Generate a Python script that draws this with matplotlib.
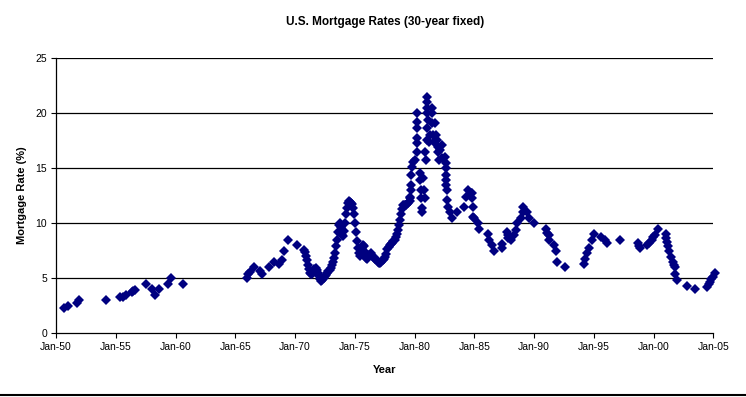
from matplotlib import pyplot as plt
from matplotlib.lines import Line2D

years = [
    1950.70, 1951.03, 1951.76, 1951.93, 1954.21, 1955.35, 1955.63, 1955.83,
    1956.33, 1956.47, 1956.61, 1957.55, 1958.05, 1958.30, 1958.64, 1959.39,
    1959.64, 1960.64,
    1965.94, 1966.08, 1966.27, 1966.58, 1967.05, 1967.25, 1967.83, 1968.25,
    1968.67, 1968.87, 1969.09, 1969.42, 1970.17,
    1970.77, 1970.87, 1970.95, 1971.02, 1971.09, 1971.17, 1971.25, 1971.34,
    1971.42, 1971.52, 1971.62, 1971.72, 1971.82, 1971.92, 1972.02, 1972.12,
    1972.21, 1972.29, 1972.39, 1972.49, 1972.59, 1972.69, 1972.79, 1972.89,
    1972.99, 1973.09, 1973.17, 1973.25, 1973.33, 1973.41, 1973.49, 1973.57,
    1973.65, 1973.73, 1973.81, 1973.89, 1973.97, 1974.05, 1974.13, 1974.21,
    1974.29, 1974.37, 1974.45, 1974.53, 1974.61, 1974.69, 1974.77, 1974.85,
    1974.93, 1975.01, 1975.09, 1975.17, 1975.25, 1975.33, 1975.41, 1975.49,
    1975.57, 1975.65, 1975.73, 1975.81, 1975.89, 1975.97, 1976.05, 1976.13,
    1976.23, 1976.33, 1976.43, 1976.53, 1976.63, 1976.73, 1976.83, 1976.93,
    1977.03, 1977.13, 1977.23, 1977.33, 1977.43, 1977.53, 1977.63, 1977.73,
    1977.83, 1977.93, 1978.03, 1978.13, 1978.23, 1978.33, 1978.43, 1978.53,
    1978.63, 1978.73, 1978.79, 1978.86, 1978.93, 1979.00, 1979.10, 1979.20,
    1979.30, 1979.40, 1979.48,
    1979.60, 1979.62, 1979.65, 1979.68, 1979.68, 1979.71, 1979.77, 1979.90,
    1980.04, 1980.18, 1980.18, 1980.18, 1980.18, 1980.18, 1980.18,
    1980.46, 1980.46, 1980.54, 1980.54, 1980.60, 1980.60, 1980.74, 1980.82,
    1980.88, 1980.94, 1980.88, 1981.02, 1981.02, 1981.02, 1981.02, 1981.02,
    1981.02, 1981.16, 1981.24, 1981.30, 1981.44, 1981.44, 1981.49, 1981.57,
    1981.66, 1981.72, 1981.77, 1981.86, 1981.94, 1981.99, 1982.05, 1982.13,
    1982.28, 1982.28, 1982.55, 1982.61, 1982.61, 1982.61, 1982.61, 1982.61,
    1982.69, 1982.69, 1982.83, 1982.97, 1983.11, 1983.53, 1984.17, 1984.28,
    1984.50, 1984.73, 1984.79, 1984.84, 1984.87, 1984.92, 1984.98,
    1985.34, 1985.42, 1986.18, 1986.26, 1986.51, 1986.68, 1987.30, 1987.35,
    1987.72, 1987.80, 1987.85, 1988.05, 1988.33, 1988.47, 1988.60, 1988.89,
    1989.05, 1989.10, 1989.44, 1989.61, 1990.02, 1991.00, 1991.11, 1991.28,
    1991.28, 1991.70, 1991.84, 1991.95, 1992.57,
    1994.18, 1994.27, 1994.41, 1994.63, 1994.88, 1995.05, 1995.58, 1995.94,
    1996.08, 1997.20, 1998.73, 1998.81, 1998.87, 1999.48, 1999.65, 1999.85,
    1999.98, 2000.13, 2000.40, 2001.02, 2001.07, 2001.16, 2001.24, 2001.32,
    2001.44, 2001.60, 2001.71, 2001.80, 2001.80, 2001.94, 2002.83, 2003.47,
    2004.50, 2004.62, 2004.73, 2004.84, 2004.95, 2005.14,
]

# 30-year fixed mortgage rate (%)
rates = [
    2.24, 2.45, 2.70, 3.00, 3.00, 3.24, 3.30, 3.42,
    3.76, 3.85, 3.94, 4.42, 3.97, 3.42, 3.97, 4.42,
    4.97, 4.42,
    4.97, 5.33, 5.58, 5.97, 5.67, 5.36, 5.97, 6.48,
    6.27, 6.64, 7.45, 8.45, 7.97,
    7.55, 7.35, 7.00, 6.60, 6.20, 5.80, 5.50, 5.35,
    5.40, 5.60, 5.85, 5.95, 5.75, 5.50, 5.15, 4.90,
    4.73, 4.85, 5.00, 5.15, 5.30, 5.45, 5.60, 5.75,
    5.95, 6.20, 6.45, 6.80, 7.30, 7.90, 8.50, 9.20,
    9.80, 10.00, 9.60, 9.20, 8.90, 8.80, 9.30, 10.00,
    10.80, 11.40, 11.80, 12.00, 11.90, 11.80, 11.70, 11.40,
    10.80, 10.00, 9.20, 8.40, 7.70, 7.30, 7.00, 7.20,
    7.60, 8.00, 7.90, 7.50, 7.10, 6.80, 6.70, 6.90,
    7.10, 7.25, 7.10, 6.95, 6.85, 6.75, 6.60, 6.45,
    6.35, 6.35, 6.45, 6.60, 6.75, 6.90, 7.20, 7.60,
    7.85, 8.00, 8.10, 8.20, 8.35, 8.50, 8.70, 9.00,
    9.40, 9.80, 10.30, 10.80, 11.30, 11.60, 11.60, 11.60,
    11.65, 11.70, 11.80,
    12.00, 12.24, 12.40, 13.00, 13.45, 14.36, 15.12, 15.58,
    15.73, 16.48, 17.24, 17.70, 18.60, 19.20, 19.97,
    14.52, 13.91, 13.00, 12.24, 11.33, 11.03, 14.06, 13.00,
    12.24, 15.73, 16.48, 17.55, 18.60, 19.97, 20.42, 21.03,
    21.48, 19.36, 17.39, 18.00, 19.06, 19.97, 20.42, 18.00,
    17.39, 19.06, 18.00, 17.55, 16.94, 16.48, 15.73, 16.64,
    17.09, 15.88, 16.03, 15.42, 14.97, 14.36, 13.91, 13.45,
    13.00, 12.09, 11.48, 11.03, 10.42, 11.03, 11.48, 12.39,
    13.00, 12.70, 12.70, 12.24, 11.48, 10.58, 10.42,
    9.97, 9.42, 9.00, 8.45, 8.00, 7.45, 7.70, 8.09,
    9.21, 8.90, 8.60, 8.45, 8.90, 9.36, 9.97, 10.42,
    11.00, 11.48, 10.97, 10.42, 9.97, 9.45, 9.06, 8.90,
    8.45, 8.00, 7.45, 6.42, 5.97,
    6.24, 6.70, 7.30, 7.70, 8.45, 9.00, 8.70, 8.45,
    8.21, 8.45, 8.21, 7.94, 7.70, 8.00, 8.20, 8.45,
    8.70, 8.90, 9.42, 9.00, 8.60, 8.30, 7.90, 7.48,
    6.88, 6.48, 6.18, 5.97, 5.36, 4.82, 4.27, 4.00,
    4.21, 4.45, 4.67, 4.91, 5.12, 5.42,
]

tick_years = list(range(1950, 2006, 5))
tick_labels = [
    "Jan-50", "Jan-55", "Jan-60", "Jan-65", "Jan-70", "Jan-75",
    "Jan-80", "Jan-85", "Jan-90", "Jan-95", "Jan-00", "Jan-05",
]


def main():
    plt.rcParams["font.family"] = ["Liberation Sans", "DejaVu Sans"]
    fig = plt.figure(figsize=(7.46, 3.97), dpi=100)
    ax = fig.add_axes([0.0751, 0.1612, 0.8811, 0.6927])

    for y in range(5, 26, 5):
        ax.axhline(y, color="black", lw=0.9, zorder=1)

    ax.plot(years, rates, linestyle="none", marker="D", ms=4.6,
            color="#000080", mew=0, zorder=3, clip_on=False)

    ax.set_xlim(1950, 2005)
    ax.set_ylim(0, 25)
    ax.set_xticks(tick_years)
    ax.set_xticklabels(tick_labels)
    ax.set_yticks(range(0, 26, 5))
    ax.tick_params(direction="out", length=3.5, width=0.8, labelsize=7.5,
                   colors="black", pad=3)

    for side in ("top", "right"):
        ax.spines[side].set_visible(False)
    for side in ("left", "bottom"):
        ax.spines[side].set_linewidth(0.9)

    ax.set_title("U.S. Mortgage Rates (30-year fixed)", fontsize=8.5,
                 fontweight="bold", pad=24)
    ax.set_xlabel("Year", fontsize=8, fontweight="bold", labelpad=9)
    ax.set_ylabel("Mortgage Rate (%)", fontsize=8, fontweight="bold",
                  labelpad=6)

    fig.add_artist(Line2D([0, 1], [0.005, 0.005], color="black", lw=1.5,
                          transform=fig.transFigure))

    fig.savefig("out.png", dpi=100)


if __name__ == "__main__":
    main()
